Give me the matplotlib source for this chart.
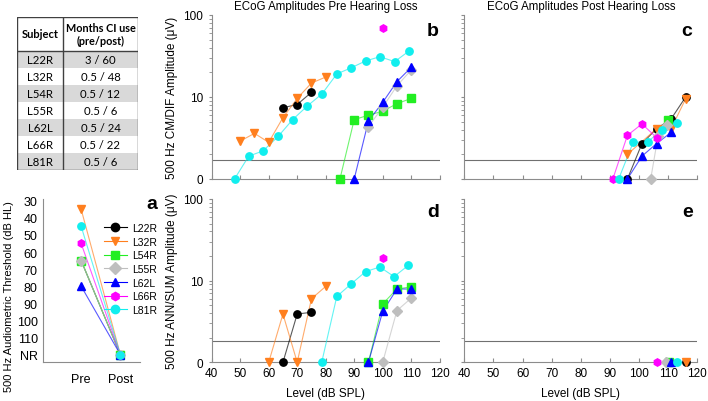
import matplotlib
matplotlib.use("Agg")
import matplotlib.pyplot as plt
import numpy as np
from matplotlib.patches import Rectangle
from matplotlib.lines import Line2D

plt.rcParams['font.family'] = ['Liberation Sans', 'DejaVu Sans']

# ---- data ----
subjects = ['L22R', 'L32R', 'L54R', 'L55R', 'L62L', 'L66R', 'L81R']
months_ci = ['3 / 60', '0.5 / 48', '0.5 / 12', '0.5 / 6', '0.5 / 24', '0.5 / 22', '0.5 / 6']
colors = ['#000000', '#FF7F1E', '#22EE22', '#BEBEBE', '#0000FF', '#FF00FF', '#11EEEE']
markers = ['o', 'v', 's', 'D', '^', 'h', 'o']

# audiometric threshold at 500 Hz, NR plotted at 120
pre_thresh = [65, 35, 65, 65, 80, 55, 45]
post_thresh = [120, 120, 120, 120, 120, 120, 120]

# CM/DIF pre (panel b): level, amplitude (0 = no response)
b_lvl = [[65, 70, 75],
         [50, 55, 60, 65, 70, 75, 80],
         [85, 90, 95, 100, 105, 110],
         [95, 100, 105, 110],
         [90, 95, 100, 105, 110],
         [100],
         [48, 53, 58, 63.3, 68.4, 73.6, 78.7, 83.9, 88.8, 94, 99, 104.2, 109.4]]
b_amp = [[7.4, 8.1, 11.4],
         [2.9, 3.6, 2.8, 5.6, 9.6, 14.8, 17.5],
         [0, 5.3, 6.0, 6.7, 8.3, 9.6],
         [4.35, 7.5, 13.7, 21.3],
         [0, 5.1, 8.6, 15.4, 23],
         [69],
         [0, 1.9, 2.2, 3.3, 5.3, 7.8, 10.9, 19.1, 22.6, 27.5, 31, 27, 36.7]]

# CM/DIF post (panel c)
c_lvl = [[96, 101, 106, 111, 116],
         [96, 106, 111, 116],
         [110],
         [104, 106.5, 109.5],
         [96, 101, 106, 111],
         [91, 96, 101, 106],
         [93, 98, 103, 108, 113]]
c_amp = [[0, 2.7, 4.1, 5.4, 10],
         [2.0, 4.1, 4.1, 9.5],
         [5.3],
         [0, 3.3, 4.6],
         [0, 1.9, 2.7, 3.7],
         [0, 3.4, 4.7, 3.2],
         [0, 2.8, 2.85, 4.0, 4.8]]

# ANN/SUM pre (panel d)
d_lvl = [[65, 70, 75],
         [60, 65, 70, 75, 80],
         [95, 100, 105, 110],
         [100, 105, 110],
         [95, 100, 105, 110],
         [100],
         [78.6, 83.9, 88.9, 94, 99, 104, 109]]
d_amp = [[0, 3.9, 4.1],
         [0, 3.9, 0, 6.0, 8.5],
         [0, 5.2, 7.9, 8.4],
         [0, 4.3, 6.1],
         [0, 4.2, 7.9, 7.9],
         [19],
         [0, 6.4, 9.1, 12.9, 14.7, 11.2, 15.4]]

# ANN/SUM post (panel e)
e_lvl = [[116], [116], [110.4], [109.1], [110.8], [106], [113.1]]
e_amp = [[0], [0], [0], [0], [0], [0], [0]]

noise_cm = 1.69
noise_ann = 1.81

W, H = 708, 402
fig = plt.figure(figsize=(W / 100, H / 100), dpi=100)

MS = 5.3
LINE_ALPHA = 0.65


def box(l, t, r, b):
    return [l / W, 1 - b / H, (r - l) / W, (b - t) / H]


spine_col = '#8C8C8C'


def style_amp(ax, ylabel=None, xlabels=False, show_ylabels=True):
    ax.set_yscale('log')
    ax.set_ylim(1, 100)
    ax.set_xlim(40, 120)
    ax.set_xticks(np.arange(40, 121, 10))
    ax.set_yticks([1, 10, 100])
    for s in ['top', 'right']:
        ax.spines[s].set_visible(False)
    for s in ['left', 'bottom']:
        ax.spines[s].set_color(spine_col)
    ax.tick_params(axis='x', direction='in', length=3, color=spine_col, labelsize=8.5)
    ax.tick_params(axis='y', which='both', direction='out', length=2.5, color=spine_col, labelsize=8.5)
    ax.tick_params(axis='y', which='minor', length=2)
    if show_ylabels:
        ax.set_yticklabels(['0', '10', '100'])
    else:
        ax.set_yticklabels([])
    if not xlabels:
        ax.set_xticklabels([])
    else:
        ax.set_xlabel('Level (dB SPL)', fontsize=8.5, labelpad=6)
    if ylabel:
        ax.set_ylabel(ylabel, fontsize=8.5, labelpad=4)


def plot_set(ax, lvls, amps, noise):
    ax.axhline(noise, color='#707070', lw=0.8, zorder=1)
    for i in range(len(subjects)):
        a = np.array(amps[i], dtype=float)
        a = np.where(a <= 0, 1, a)
        ax.plot(lvls[i], a, color=colors[i], lw=0.8, alpha=LINE_ALPHA, zorder=2 + i * 0.1)
        ax.plot(lvls[i], a, color=colors[i], marker=markers[i], ms=MS, lw=0,
                mec=colors[i], clip_on=False, zorder=3 + i * 0.1)


ax_b = fig.add_axes(box(211.7, 16, 439.7, 180))
ax_c = fig.add_axes(box(464.3, 16, 697.3, 180))
ax_d = fig.add_axes(box(211.7, 200, 439.7, 363.3))
ax_e = fig.add_axes(box(464.3, 200, 697.3, 363.3))

plot_set(ax_b, b_lvl, b_amp, noise_cm)
plot_set(ax_c, c_lvl, c_amp, noise_cm)
plot_set(ax_d, d_lvl, d_amp, noise_ann)
plot_set(ax_e, e_lvl, e_amp, noise_ann)

style_amp(ax_b, '500 Hz CM/DIF Amplitude (\u03bcV)')
style_amp(ax_c, show_ylabels=False)
style_amp(ax_d, '500 Hz ANN/SUM Amplitude (\u03bcV)', xlabels=True)
style_amp(ax_e, show_ylabels=False, xlabels=True)

ax_b.set_title('ECoG Amplitudes Pre Hearing Loss', fontsize=8.3, pad=4)
ax_c.set_title('ECoG Amplitudes Post Hearing Loss', fontsize=8.3, pad=4)

# ---- panel a ----
ax_a = fig.add_axes(box(42.7, 200, 140, 363.3))
handles = []
for i in range(len(subjects)):
    ax_a.plot([0, 1], [pre_thresh[i], post_thresh[i]], color=colors[i], lw=0.8,
              alpha=LINE_ALPHA, zorder=2)
    ax_a.plot([0, 1], [pre_thresh[i], post_thresh[i]], color=colors[i], marker=markers[i],
              ms=MS, lw=0, zorder=3)
    handles.append(Line2D([], [], color=colors[i], marker=markers[i], ms=MS + 0.7, lw=0.8,
                          label=subjects[i]))
ax_a.set_xlim(-0.98, 1.5)
ax_a.set_ylim(124.5, 29)
ax_a.set_yticks(np.arange(30, 121, 10))
ax_a.set_yticklabels([str(v) for v in range(30, 111, 10)] + ['NR'])
ax_a.set_xticks([0, 1])
ax_a.set_xticklabels(['Pre', 'Post'])
for s in ['top', 'right']:
    ax_a.spines[s].set_visible(False)
for s in ['left', 'bottom']:
    ax_a.spines[s].set_color(spine_col)
ax_a.tick_params(length=0, labelsize=9)
ax_a.tick_params(axis='x', pad=8)
ax_a.set_ylabel('500 Hz Audiometric Threshold (dB HL)', fontsize=8)
ax_a.yaxis.set_label_coords(-0.3, 0.41)
ax_a.legend(handles=handles, loc='upper left', bbox_to_anchor=(104 / W, 1 - 224 / H),
            bbox_transform=fig.transFigure, frameon=False, fontsize=7.5, handlelength=2.2,
            handletextpad=0.5, labelspacing=0.35, borderpad=0, borderaxespad=0)

# ---- table ----
ax_t = fig.add_axes(box(17, 18, 138, 171))
ax_t.set_xlim(17, 138)
ax_t.set_ylim(171, 18)
ax_t.axis('off')
row_h = (171 - 51.7) / len(subjects)
for k in range(len(subjects)):
    top = 51.7 + k * row_h
    if k % 2 == 0:
        ax_t.add_patch(Rectangle((17, top), 121, row_h, color='#D9D9D9', lw=0))
    ax_t.text(40, top + row_h / 2, subjects[k], ha='center', va='center', fontsize=8.2,
              family='Lato')
    ax_t.text(100.5, top + row_h / 2, months_ci[k], ha='center', va='center', fontsize=8.2,
              family='Lato')
ax_t.text(40, 35, 'Subject', ha='center', va='center', fontsize=8, weight='bold', family='Lato')
ax_t.text(100.5, 35, 'Months CI use\n(pre/post)', ha='center', va='center', fontsize=7.8,
          weight='bold', family='Lato', linespacing=1.15)
ax_t.add_patch(Rectangle((17, 18), 121, 153, fill=False, ec='#404040', lw=1))
ax_t.plot([63.3, 63.3], [18, 171], color='#404040', lw=1)
ax_t.plot([17, 138], [51.7, 51.7], color='#404040', lw=1)

# ---- panel letters ----
for txt, x, y in [('a', 152, 205), ('b', 433, 32), ('c', 687, 32), ('d', 433, 213), ('e', 688, 213)]:
    fig.text(x / W, 1 - y / H, txt, fontsize=14, weight='bold', ha='center', va='center')

fig.savefig('out.png', dpi=100)
